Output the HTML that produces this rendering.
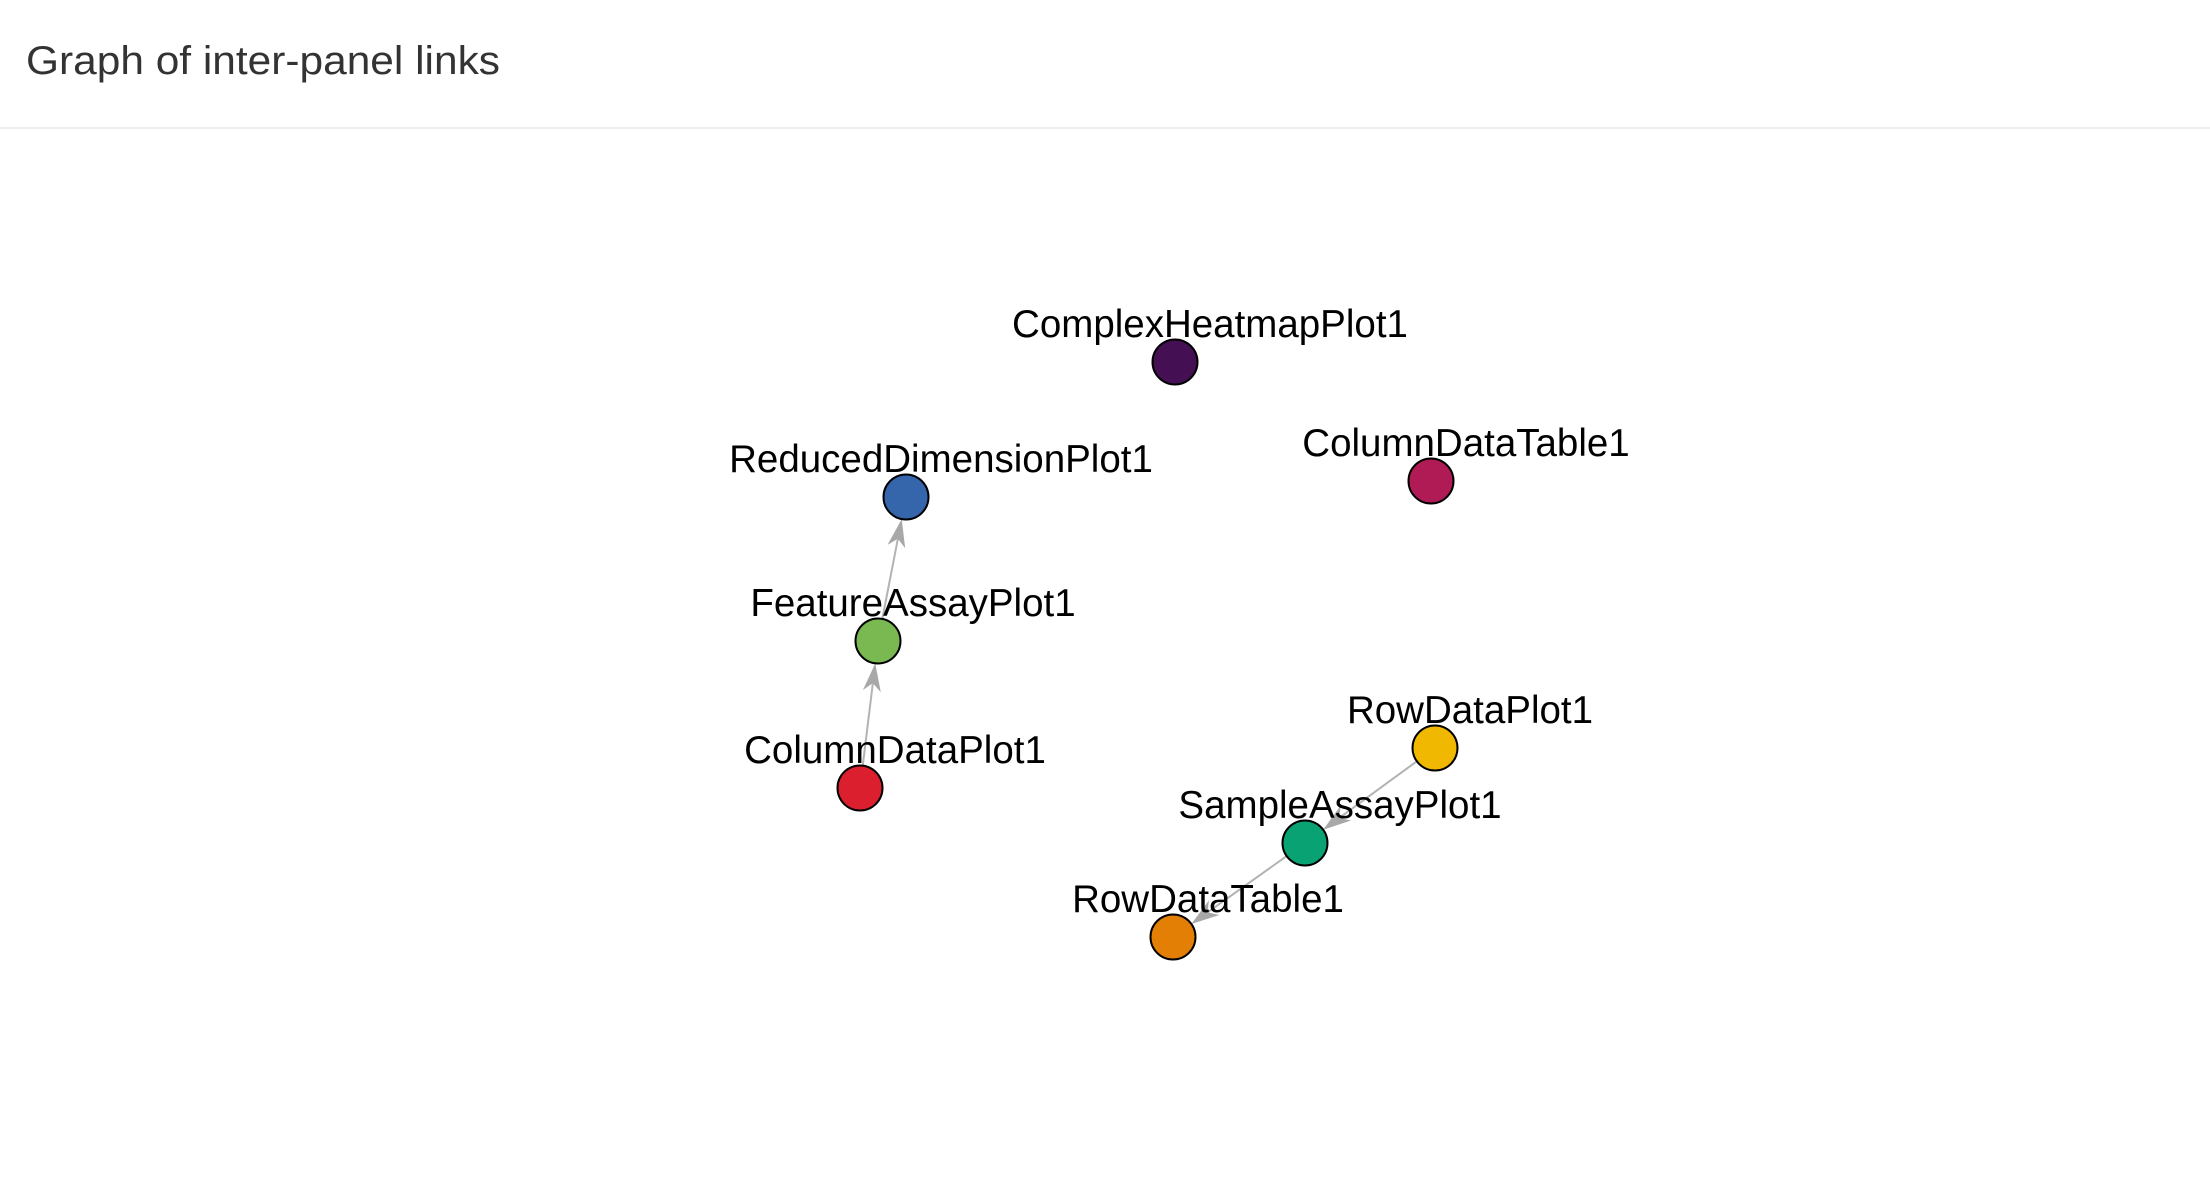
<!DOCTYPE html>
<html><head><meta charset="utf-8"><style>
html,body{margin:0;padding:0;background:#fff;width:2210px;height:1178px;overflow:hidden}
svg{display:block}
</style></head><body>
<svg id="chart" width="2210" height="1178" xmlns="http://www.w3.org/2000/svg">
<text x="26" y="74" font-family="Liberation Sans, sans-serif" font-size="40" fill="#333" textLength="474" lengthAdjust="spacingAndGlyphs">Graph of inter-panel links</text>
<rect x="0" y="127" width="2210" height="2" fill="#eeeeee"/>
<g id="edges"></g><g id="nodes"></g>
</svg>
<script>
const nodeNames=["ComplexHeatmapPlot1","ColumnDataTable1","ReducedDimensionPlot1","FeatureAssayPlot1","ColumnDataPlot1","RowDataPlot1","SampleAssayPlot1","RowDataTable1"];
const nodeX=[1175,1431,906,878,860,1435,1305,1173];
const nodeY=[362,481,497,641,788,748,843,937];
const nodeColors=["#440f53","#b01b56","#3565aa","#7ab852","#dc1f2e","#f0b800","#09a373","#e37f05"];
const edgeFrom=[4,3,5,6];
const edgeTo=[3,2,6,7];
const NS="http://www.w3.org/2000/svg";
const R=22.5;
const eg=document.getElementById('edges'), ng=document.getElementById('nodes');
for(let i=0;i<edgeFrom.length;i++){
  const a=edgeFrom[i], b=edgeTo[i];
  const x1=nodeX[a], y1=nodeY[a], x2=nodeX[b], y2=nodeY[b];
  const dx=x2-x1, dy=y2-y1, L=Math.hypot(dx,dy), ux=dx/L, uy=dy/L;
  const tx=x2-ux*R, ty=y2-uy*R;
  const bx=tx-ux*28, by=ty-uy*28;
  const g=document.createElementNS(NS,'g');
  
  
  const ln=document.createElementNS(NS,'line');
  ln.setAttribute('x1',x1+ux*R);ln.setAttribute('y1',y1+uy*R);
  ln.setAttribute('x2',bx+ux*8);ln.setAttribute('y2',by+uy*8);
  ln.setAttribute('stroke','#b3b3b3');ln.setAttribute('stroke-width','2');
  
  
  g.appendChild(ln);
  const px=-uy, py=ux;
  const p=document.createElementNS(NS,'polygon');
  p.setAttribute('points',`${tx},${ty} ${bx+px*9},${by+py*9} ${bx+ux*8},${by+uy*8} ${bx-px*9},${by-py*9}`);
  p.setAttribute('fill','#a8a8a8');
  
  
  g.appendChild(p);
  eg.appendChild(g);
}
for(let i=0;i<nodeNames.length;i++){
  const g=document.createElementNS(NS,'g');
  
  
  const c=document.createElementNS(NS,'circle');
  c.setAttribute('cx',nodeX[i]);c.setAttribute('cy',nodeY[i]);c.setAttribute('r',R);
  c.setAttribute('fill',nodeColors[i]);c.setAttribute('stroke','#000');c.setAttribute('stroke-width','2');
  
  
  g.appendChild(c);
  const t=document.createElementNS(NS,'text');
  t.setAttribute('x',nodeX[i]+35);t.setAttribute('y',nodeY[i]-25);
  t.setAttribute('text-anchor','middle');
  t.setAttribute('font-family','Liberation Sans, sans-serif');
  t.setAttribute('font-size','38.5');t.setAttribute('fill','#000');
  
  
  t.textContent=nodeNames[i];
  g.appendChild(t);
  ng.appendChild(g);
}
</script>
</body></html>
